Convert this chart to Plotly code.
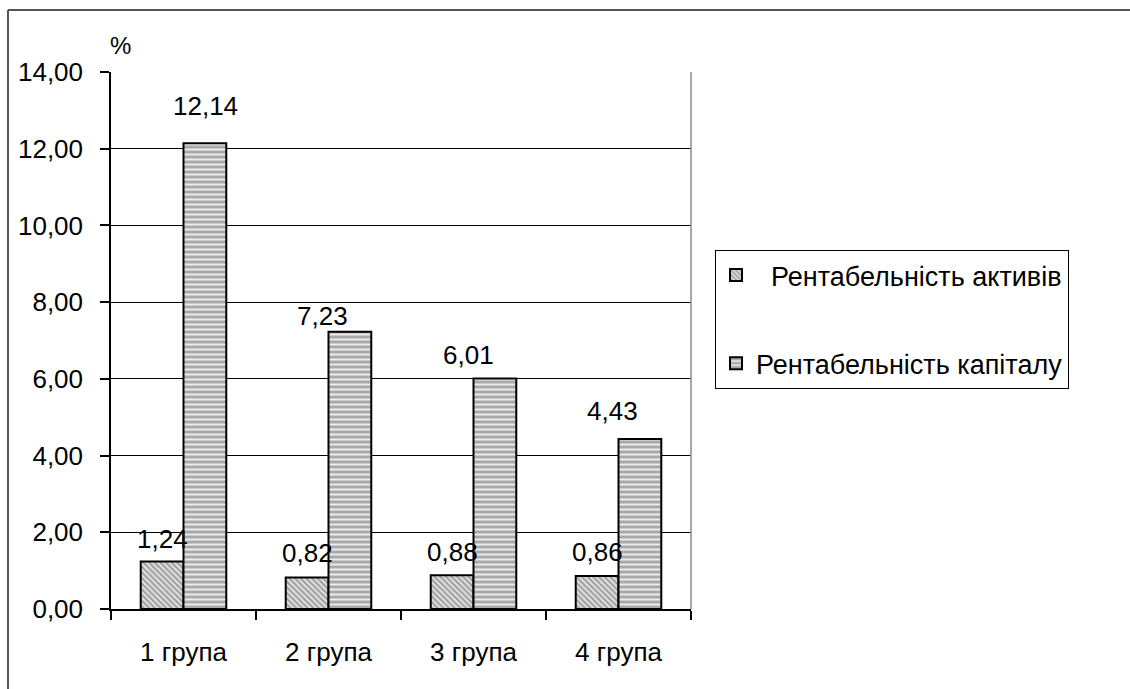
import plotly.graph_objects as go

# Data
groups = ["1 група", "2 група", "3 група", "4 група"]
assets_roa = [1.24, 0.82, 0.88, 0.86]
capital_roe = [12.14, 7.23, 6.01, 4.43]
series_names = ["\u00a0\u00a0Рентабельність активів", "Рентабельність капіталу"]
y_ticks = [0, 2, 4, 6, 8, 10, 12, 14]

FONT = "Liberation Sans, Arial, sans-serif"
FS = 26

# Plot area in pixels
W, H = 1130, 689
L, R, T, B = 111, 691, 72, 609
pw, ph = R - L, B - T

fig = go.Figure()
fig.add_trace(go.Bar(
    x=groups, y=assets_roa, name=series_names[0], legendgroup="a",
    marker=dict(color="#dcdcdc", line=dict(color="black", width=2),
                pattern=dict(shape="\\", fgcolor="#959595", bgcolor="#dedede",
                             size=4, solidity=0.4, fillmode="replace")),
))
fig.add_trace(go.Bar(
    x=groups, y=capital_roe, name=series_names[1], legendgroup="b",
    marker=dict(color="#b4b4b4", line=dict(color="black", width=2),
                pattern=dict(shape="-", fgcolor="#ececec", bgcolor="#a9a9a9",
                             size=5, solidity=0.4, fillmode="replace")),
))

# Value labels: (x shift, y shift) per bar, in pixels
bar_half = 21.5
asset_offsets = [(0, 22), (0, 25), (0, 23), (0, 24)]
capital_offsets = [(0, 37), (-28, 16), (-27, 23), (-28, 28)]

def fmt(v):
    return f"{v:.2f}".replace(".", ",")

for g, v, (dx, dy) in zip(groups, assets_roa, asset_offsets):
    fig.add_annotation(x=g, y=v, text=fmt(v), showarrow=False, xref="x", yref="y",
                       xshift=-bar_half + dx, yshift=dy, yanchor="middle",
                       font=dict(family=FONT, size=FS, color="black"))
for g, v, (dx, dy) in zip(groups, capital_roe, capital_offsets):
    fig.add_annotation(x=g, y=v, text=fmt(v), showarrow=False, xref="x", yref="y",
                       xshift=bar_half + dx, yshift=dy, yanchor="middle",
                       font=dict(family=FONT, size=FS, color="black"))

# "%" unit label above the y axis
fig.add_annotation(x=(120 - L) / pw, y=(B - 45) / ph, xref="paper", yref="paper",
                   text="%", showarrow=False, xanchor="center", yanchor="middle",
                   font=dict(family=FONT, size=FS - 2, color="black"))

# Right edge of plot area (grey)
fig.add_shape(type="line", xref="paper", yref="paper", x0=1, x1=1, y0=0, y1=1,
              line=dict(color="#8c8c8c", width=1.5))
# Outer chart frame
fig.add_shape(type="line", xref="paper", yref="paper",
              x0=(8 - L) / pw, x1=(8 - L) / pw, y0=(B - 10) / ph, y1=(B - 700) / ph,
              line=dict(color="#555555", width=2))
fig.add_shape(type="line", xref="paper", yref="paper",
              x0=(8 - L) / pw, x1=(1140 - L) / pw, y0=(B - 10) / ph, y1=(B - 10) / ph,
              line=dict(color="#555555", width=2))

fig.update_layout(
    width=W, height=H,
    margin=dict(l=L, r=W - R, t=T, b=H - B, pad=0, autoexpand=False),
    paper_bgcolor="white", plot_bgcolor="white",
    barmode="group", bargap=0.41, bargroupgap=0,
    separators=", ",
    font=dict(family=FONT, size=FS, color="black"),
    legend=dict(
        x=(715 - L) / pw, y=(B - 250) / ph, xanchor="left", yanchor="top",
        bordercolor="black", borderwidth=1, bgcolor="white",
        traceorder="grouped", tracegroupgap=50,
        font=dict(family=FONT, size=FS + 1, color="black"),
    ),
    showlegend=True,
)
fig.update_xaxes(
    type="category", showline=True, linecolor="black", linewidth=1.5,
    ticks="outside", tickson="boundaries", ticklen=9, tickcolor="black", tickwidth=1.5,
    showgrid=False, ticklabelstandoff=19, automargin=False,
    tickfont=dict(family=FONT, size=FS, color="black"),
)
fig.update_yaxes(
    range=[0, 14], tickvals=y_ticks, tickformat=".2f",
    showline=True, linecolor="black", linewidth=1.5,
    ticks="outside", ticklen=9, tickcolor="black", tickwidth=1.5,
    showgrid=True, gridcolor="black", gridwidth=1, zeroline=False,
    ticklabelstandoff=12, automargin=False,
    tickfont=dict(family=FONT, size=FS, color="black"),
)

fig.write_html("out.html")
